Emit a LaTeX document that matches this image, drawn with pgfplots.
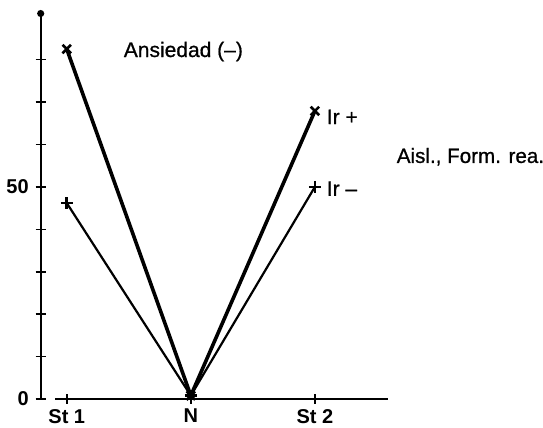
\documentclass[border=0pt]{standalone}
\usepackage{fontspec}
\setmainfont{Liberation Sans}
\newfontfamily\annfont{Liberation Sans}[Ligatures=TeX, FakeBold=0.8]
\usepackage{pgfplots}
\pgfplotsset{compat=1.18}
\usetikzlibrary{arrows.meta}

\begin{document}
\begin{tikzpicture}
\begin{axis}[
    scale only axis,
    width=173.7pt,
    height=194.5pt,
    xmin=-0.21, xmax=2.59,
    ymin=0, ymax=91.7,
    clip=false,
    axis lines=left,
    axis line style={line width=0.9pt},
    x axis line style={-, shorten <=7.2pt},
    y axis line style={-{Circle[length=3.5pt]}},
    xtick={0,1,2},
    xticklabels={St 1,N,St 2},
    ytick={0,10,...,80},
    yticklabels={0,{},{},{},{},50,{},{},{}},
    tick align=center,
    major tick length=5pt,
    tick style={line width=0.8pt, black},
    ticklabel style={font=\fontsize{10}{12}\selectfont\bfseries},
    xticklabel style={yshift=1pt},
]
\coordinate (ll) at (rel axis cs:0,0);
% thick series (x marks)
\addplot[black, line width=1.8pt, mark=x, mark size=3pt,
    mark options={line width=1.3pt}]
    coordinates {(0,82.5) (1,0.8) (2,67.9)};
% thin series (+ marks)
\addplot[black, line width=1.1pt, mark=+, mark size=3pt,
    mark options={line width=1.3pt}]
    coordinates {(0,46.2) (1,0.8) (2,50.0)};
\node[font=\annfont\fontsize{10.5}{12}\selectfont] at (axis cs:0.94,81.9) {Ansiedad (–)};
\node[anchor=west, font=\annfont\fontsize{10.5}{12}\selectfont, inner sep=0pt] at (axis cs:2.093,66.5) {Ir +};
\node[anchor=west, font=\annfont\fontsize{10.5}{12}\selectfont, inner sep=0pt] at (axis cs:2.093,49.6) {Ir –};
\node[anchor=west, font=\annfont\fontsize{10.3}{12}\selectfont, inner sep=0pt] at (axis cs:2.657,57.1) {Aisl., Form. rea.};
\end{axis}
\pgfresetboundingbox
\path (ll) ++(-20.35pt,-14.5pt) rectangle ++(271.5pt,214pt);
\end{tikzpicture}
\end{document}
